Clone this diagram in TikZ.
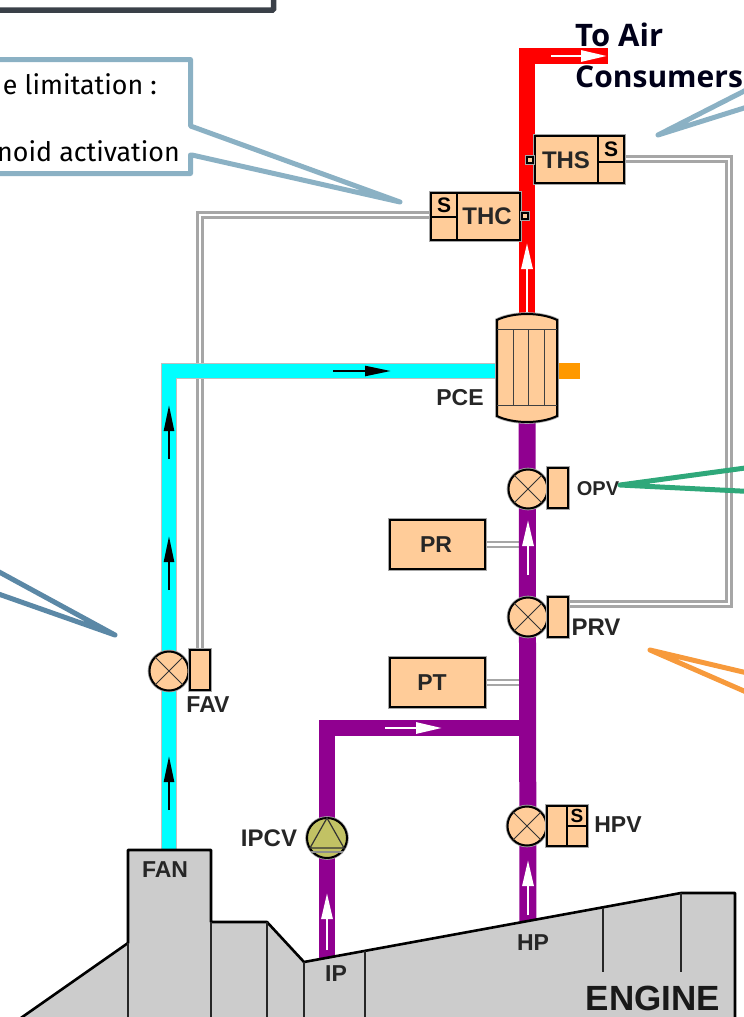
\documentclass[tikz,border=0pt]{standalone}
\usepackage{fontspec}
\setmainfont{Liberation Sans}
\newfontfamily\notefont{Fira Sans}
\newfontfamily\headfont{Open Sans}
\usetikzlibrary{arrows.meta,backgrounds}
\definecolor{unitfill}{HTML}{FFCC99}
\definecolor{enginefill}{HTML}{CCCCCC}
\definecolor{noteblue}{HTML}{8BB1C4}
\definecolor{notesteel}{HTML}{5B88A6}
\definecolor{notegreen}{HTML}{2FA87A}
\definecolor{noteorange}{HTML}{F79A3C}
\definecolor{toplink}{HTML}{3A4048}
\definecolor{ipcvfill}{HTML}{C2C264}
\definecolor{airpurple}{HTML}{900090}
\definecolor{aircyan}{HTML}{00FFFF}
\definecolor{airred}{HTML}{FF0000}
\definecolor{airorange}{HTML}{FF9900}
\begin{document}
\begin{tikzpicture}[x=1pt,y=-1pt]

\tikzstyle{unit}=[rectangle, draw=black, line width=2pt, fill=unitfill, inner sep=0pt, outer sep=0pt, preaction={draw=gray!70,line width=3.6pt}]
\tikzstyle{valve}=[unit, circle, minimum size=39pt]
\tikzstyle{act}=[unit, minimum width=20pt, minimum height=40pt]
\tikzstyle{sensor}=[unit, minimum width=95pt, minimum height=49pt]
\tikzstyle{pipe}=[draw=gray!50, line width=1pt, double distance=14pt, miter limit=10]
\tikzstyle{signal}=[draw=gray!70, line width=2.4pt, double=white, double distance=2.6pt]
\tikzstyle{note}=[line width=5pt, line join=round, line cap=round, fill=none]
\tikzstyle{flowwhite}=[-{Triangle[length=26pt,width=11pt]}, white, line width=2.8pt]
\tikzstyle{flowblack}=[-{Triangle[length=26pt,width=10pt]}, black, line width=2.4pt]
\tikzstyle{tag}=[font=\bfseries\fontsize{23}{23}\selectfont, text=black!85, inner sep=0pt]

\useasboundingbox (0,0) rectangle (744,1017);

\node (linkbox) [draw=toplink, line width=5.5pt, rounded corners=1pt, outer sep=0pt, minimum width=290pt, minimum height=30pt, anchor=south east] at (273.5,10) {};

% valves and their actuators
\node (OPVv) [valve] at (528,489) {};
\node (OPVa) [act] at (558,488) {};
\node (OPV)  [tag, font=\bfseries\fontsize{20}{20}\selectfont] at (598,489) {OPV};
\node (PRVv) [valve] at (528,617) {};
\node (PRVa) [act] at (558,617) {};
\node (PRV)  [tag, font=\bfseries\fontsize{24}{24}\selectfont] at (596,627) {PRV};
\node (FAVv) [valve] at (169,671) {};
\node (FAVa) [act] at (200,670) {};
\node (FAV)  [tag] at (208,705) {FAV};
\node (HPVv) [valve] at (527,826) {};
\node (HPVa) [act, minimum width=40pt] at (567,826) {};
\node (HPV)  [tag] at (618,825) {HPV};
\node (IPCVv)[valve, fill=ipcvfill, minimum size=40pt] at (327,838) {};
\node (IPCV) [tag, font=\bfseries\fontsize{24}{24}\selectfont] at (269,838) {IPCV};

\draw [line width=0.9pt, black!80] (OPVv.north west) -- (OPVv.south east) (OPVv.north east) -- (OPVv.south west);
\draw [line width=0.9pt, black!80] (PRVv.north west) -- (PRVv.south east) (PRVv.north east) -- (PRVv.south west);
\draw [line width=0.9pt, black!80] (FAVv.north west) -- (FAVv.south east) (FAVv.north east) -- (FAVv.south west);
\draw [line width=0.9pt, black!80] (HPVv.north west) -- (HPVv.south east) (HPVv.north east) -- (HPVv.south west);
\draw [line width=1.4pt] (HPVa.north) -- (HPVa.south);
\draw [line width=1.4pt] (HPVa.east) -- (HPVa.center);
\node (HPVs) [font=\bfseries\fontsize{19}{19}\selectfont, inner sep=0pt] at (577,816) {S};
\draw [line width=1.2pt, black!80] (IPCVv.north) -- (310,848) -- (344,848) -- cycle;
\draw [line width=1.2pt, black!45] (311,852) -- (343,852);

% sensors
\node (PR) [sensor] at (437.5,544.5) {};
\node (PT) [sensor] at (437.5,682.5) {};
\node (PRtxt) [tag] at (436,545) {PR};
\node (PTtxt) [tag] at (432,683) {PT};

% switch boxes
\node (THS) [unit, minimum width=89pt, minimum height=47pt] at (579.5,159.5) {};
\node (THC) [unit, minimum width=89pt, minimum height=47pt] at (475.5,216.5) {};
\draw [line width=1.4pt] (598,136) -- (598,183);
\draw [line width=1.4pt] (598,162) -- (624,162);
\draw [line width=1.4pt] (457,193) -- (457,240);
\draw [line width=1.4pt] (431,217) -- (457,217);
\node (THStxt) [font=\bfseries\fontsize{24}{24}\selectfont, text=black!85, inner sep=0pt] at (566,160) {THS};
\node (THCtxt) [font=\bfseries\fontsize{24}{24}\selectfont, text=black!85, inner sep=0pt] at (487,216) {THC};
\node (THSs) [font=\bfseries\fontsize{21}{21}\selectfont, inner sep=0pt] at (611,149) {S};
\node (THCs) [font=\bfseries\fontsize{21}{21}\selectfont, inner sep=0pt] at (444,205) {S};
\node (THSp) [unit, minimum size=6pt, line width=1.5pt] at (530,160) {};
\node (THCp) [unit, minimum size=6pt, line width=1.5pt] at (525,216) {};

% cooler
\node (PCE) [rectangle, minimum width=60pt, minimum height=108pt, inner sep=0pt] at (527,368) {};
\draw [unit] (497,416) -- (497,320) .. controls (505,316) and (517,314) .. (527,314)
             .. controls (537,314) and (549,316) .. (557,320) -- (557,416) .. controls (549,420) and (537,422) .. (527,422)
             .. controls (517,422) and (505,420) .. (497,416) -- cycle;
\draw [line width=1pt, black!75] (497,329) -- (557,329) (497,405) -- (557,405);
\foreach \lx in {513,528,544}
    \draw [line width=1pt, black!75] (\lx,329) -- (\lx,405);
\node (PCEtxt) [tag] at (460,398) {PCE};

% engine
\coordinate (FANin) at (169,860);
\coordinate (IPout) at (327,965);
\coordinate (HPout) at (528,925);
\draw [fill=enginefill, line width=2.6pt, line join=round] (18,1020) -- (128,943) -- (128,850) -- (211,850) -- (211,922) -- (267,922)
      -- (304,962) -- (681,893) -- (735,893) -- (735,1020) -- cycle;
\draw [line width=1.1pt, black!85] (128,943) -- (128,1020) (211,922) -- (211,1020) (267,922) -- (267,1020) (304,962) -- (304,1020)
      (365,951) -- (365,1020) (603,908) -- (603,972) (681,893) -- (681,972);
\node (FAN) [tag] at (165,870) {FAN};
\node (IP) [tag] at (336,974) {IP};
\node (HP) [tag] at (533,943) {HP};
\node (ENGINE) [font=\bfseries\fontsize{35}{35}\selectfont, inner sep=0pt, text=black!90] at (653,998) {ENGINE};

% pipes
\begin{scope}[on background layer]
\coordinate (branch) at (528,728);
\coordinate (airtop) at (527,56);
\coordinate (airend) at (608,56);
\coordinate (fantop) at (169,371);
\coordinate (ipturn) at (327,728);
\coordinate (thsturn) at (729,159);
\coordinate (prvturn) at (729,604);
\coordinate (thcturn) at (200,215);
\coordinate (PCEin) at (527,371);
\coordinate (oilend) at (580,371);
\draw [signal] (PR.east) -- (PR.east -| branch);
\draw [signal] (PT.east) -- (PT.east -| branch);
\draw [signal] (THS.east |- thsturn) -- (thsturn) -- (prvturn) -- (PRVa.east |- prvturn);
\draw [signal] (THC.west |- thcturn) -- (thcturn) -- (thcturn |- FAVa.north);
\draw [pipe, double=aircyan] (FANin) -- (fantop) -- (PCEin);
\draw [airpurple, line width=17pt] (HPout) -- (PCE.center);
\draw [airpurple, line width=15.5pt, line join=miter] (IPout) -- (ipturn) -- (branch);
\draw [airred, line width=16pt, line join=miter] (PCE.center) -- (airtop) -- (airend);
\draw [airorange, line width=16pt] (PCEin) -- (oilend);
\end{scope}

% flow arrows
\draw [flowwhite] (551,56) -- (607,56);
\draw [flowwhite] (527,312) -- (527,243);
\draw [flowwhite] (528,575) -- (528,520);
\draw [flowwhite] (385,728) -- (442,728);
\draw [flowwhite] (327,950) -- (327,893);
\draw [flowwhite] (528,915) -- (528,860);
\draw [flowblack] (333,371) -- (391,371);
\foreach \ty in {405,536,756}
    \draw [flowblack] (169,\ty+54) -- (169,\ty);

% callouts
\node (limit) [anchor=east, inner sep=0pt, font=\notefont\fontsize{26.8}{26.8}\selectfont] at (157,84) {e limitation :};
\node (activ) [anchor=east, inner sep=0pt, font=\notefont\fontsize{26.8}{26.8}\selectfont] at (180,151) {noid activation};
\draw [note, noteblue] (-8,59.5) -- (190.5,59.5) -- (190.5,126) -- (400,202) -- (192,155) -- (190.5,155) -- (190.5,173.5) -- (-8,173.5);
\draw [note, noteblue] (658,135) -- (760,83) (658,135) -- (760,103);
\draw [note, notesteel] (115,635) -- (-10,567) (115,635) -- (-10,591);
\draw [note, notegreen] (620,485) -- (760,466) (620,485) -- (760,492);
\draw [note, noteorange] (650,650) -- (760,676) (650,650) -- (760,698);

\node (toair) [anchor=west, inner sep=0pt, font=\headfont\bfseries\fontsize{31}{31}\selectfont, text=black!90!blue] at (575,35) {To Air};
\node (consumers) [anchor=west, inner sep=0pt, font=\headfont\bfseries\fontsize{30}{30}\selectfont, text=black!90!blue] at (575,77) {Consumers};

\end{tikzpicture}
\end{document}
